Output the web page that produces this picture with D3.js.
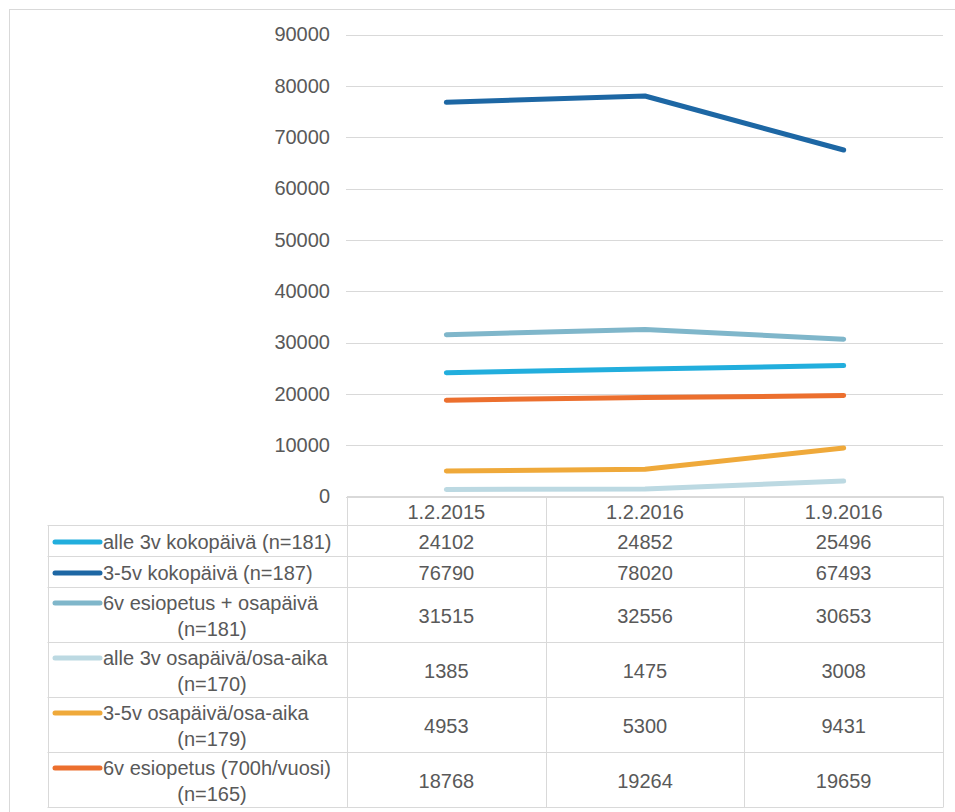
<!DOCTYPE html>
<html><head><meta charset="utf-8">
<script src="https://cdn.jsdelivr.net/npm/d3@7/dist/d3.min.js"></script>
<style>
body{margin:0;background:#fff}
svg{display:block}
text{font-family:"Liberation Sans",Arial,sans-serif;fill:#595959}
</style>
</head><body>
<svg id="c" width="955" height="812"></svg>
<script>
const categories = ["1.2.2015", "1.2.2016", "1.9.2016"];
const seriesNames = [
  "alle 3v kokopäivä (n=181)",
  "3-5v kokopäivä (n=187)",
  "6v esiopetus + osapäivä (n=181)",
  "alle 3v osapäivä/osa-aika (n=170)",
  "3-5v osapäivä/osa-aika (n=179)",
  "6v esiopetus (700h/vuosi) (n=165)"
];
const alle3vKokopaiva = [24102, 24852, 25496];
const v35Kokopaiva = [76790, 78020, 67493];
const v6EsiopetusOsapaiva = [31515, 32556, 30653];
const alle3vOsapaiva = [1385, 1475, 3008];
const v35Osapaiva = [4953, 5300, 9431];
const v6Esiopetus700h = [18768, 19264, 19659];
const yTicks = [0, 10000, 20000, 30000, 40000, 50000, 60000, 70000, 80000, 90000];
const seriesColors = ["#22aedd", "#1d67a4", "#7fb6ca", "#bcd9e2", "#efa93a", "#ec6f2e"];

const seriesValues = [alle3vKokopaiva, v35Kokopaiva, v6EsiopetusOsapaiva, alle3vOsapaiva, v35Osapaiva, v6Esiopetus700h];
const series = seriesNames.map((n, i) => ({name: n, values: seriesValues[i], color: seriesColors[i]}));

const svg = d3.select("#c");
const gridColor = "#d9d9d9";
const FS = 20;

// outer frame
svg.append("rect").attr("x", 9.5).attr("y", 9.5).attr("width", 980).attr("height", 830)
  .attr("fill", "none").attr("stroke", gridColor);

const x = d3.scaleBand().domain(categories).range([347, 943]).padding(0);
const y = d3.scaleLinear().domain([0, 90000]).range([496.5, 34.5]);

// gridlines + y labels
const yAxis = d3.axisLeft(y).tickValues(yTicks).tickSize(0).tickPadding(16).tickFormat(d3.format("d"));
const ga = svg.append("g").attr("transform", "translate(346,0)").call(yAxis);
ga.select(".domain").remove();
ga.selectAll("text").attr("font-size", FS).attr("fill", "#595959").attr("font-family", '"Liberation Sans",Arial,sans-serif');
svg.append("g").selectAll("line").data(yTicks).join("line")
  .attr("x1", 346).attr("x2", 943)
  .attr("y1", d => Math.round(y(d)) + 0.5).attr("y2", d => Math.round(y(d)) + 0.5)
  .attr("stroke", gridColor).attr("stroke-width", 1);

// lines
const line = d3.line().x((d, i) => x(categories[i]) + x.bandwidth() / 2).y(d => y(d));
svg.append("g").selectAll("path").data(series).join("path")
  .attr("d", d => line(d.values))
  .attr("fill", "none").attr("stroke", d => d.color).attr("stroke-width", 5)
  .attr("stroke-linecap", "round").attr("stroke-linejoin", "round");

// table
const tableTop = 496.5, headerH = 29;
const tbl = svg.append("g");
// measure & wrap legend text
const meas = svg.append("text").attr("font-size", FS).attr("visibility", "hidden");
function wrap(name) {
  meas.text(name);
  if (meas.node().getComputedTextLength() <= 242) return [name];
  const k = name.lastIndexOf(" (");
  return [name.slice(0, k), name.slice(k + 1)];
}
const rows = series.map(s => ({...s, lines: wrap(s.name)}));
meas.remove();
let yy = tableTop + headerH;
rows.forEach(r => { r.top = yy; r.h = r.lines.length === 1 ? 31 : 55; yy += r.h; });
const tableBottom = yy;

// header texts
tbl.selectAll("text.h").data(categories).join("text").attr("class", "h")
  .attr("x", d => x(d) + x.bandwidth() / 2).attr("y", tableTop + headerH / 2 + 8)
  .attr("text-anchor", "middle").attr("font-size", FS).text(d => d);

// horizontal borders
const hl = [{y: tableTop, x1: 347}].concat(rows.map(r => ({y: r.top, x1: 47.5}))).concat([{y: tableBottom, x1: 47.5}]);
tbl.selectAll("line.hb").data(hl).join("line").attr("class", "hb")
  .attr("x1", d => d.x1).attr("x2", 943).attr("y1", d => d.y).attr("y2", d => d.y)
  .attr("stroke", gridColor);
// vertical borders
const vl = [{x: 47.5, y1: tableTop + headerH}].concat(categories.map(c => ({x: x(c), y1: tableTop}))).concat([{x: 943, y1: tableTop}]);
tbl.selectAll("line.vb").data(vl).join("line").attr("class", "vb")
  .attr("x1", d => Math.round(d.x) + 0.5).attr("x2", d => Math.round(d.x) + 0.5)
  .attr("y1", d => d.y1).attr("y2", tableBottom).attr("stroke", gridColor);

rows.forEach(r => {
  const c = r.top + r.h / 2;
  const g = tbl.append("g");
  const base1 = r.lines.length === 1 ? c + 8 : c - 13 + 8;
  g.append("line").attr("x1", 55).attr("x2", 100).attr("y1", base1 - 7).attr("y2", base1 - 7)
    .attr("stroke", r.color).attr("stroke-width", 5).attr("stroke-linecap", "round");
  g.append("text").attr("x", 103).attr("y", base1).attr("font-size", FS).text(r.lines[0]);
  if (r.lines.length > 1) {
    g.append("text").attr("x", 212).attr("y", base1 + 26).attr("text-anchor", "middle")
      .attr("font-size", FS).text(r.lines[1]);
  }
  g.selectAll("text.v").data(r.values).join("text").attr("class", "v")
    .attr("x", (d, i) => x(categories[i]) + x.bandwidth() / 2).attr("y", c + 8)
    .attr("text-anchor", "middle").attr("font-size", FS).text(d => d);
});
</script>
</body></html>
